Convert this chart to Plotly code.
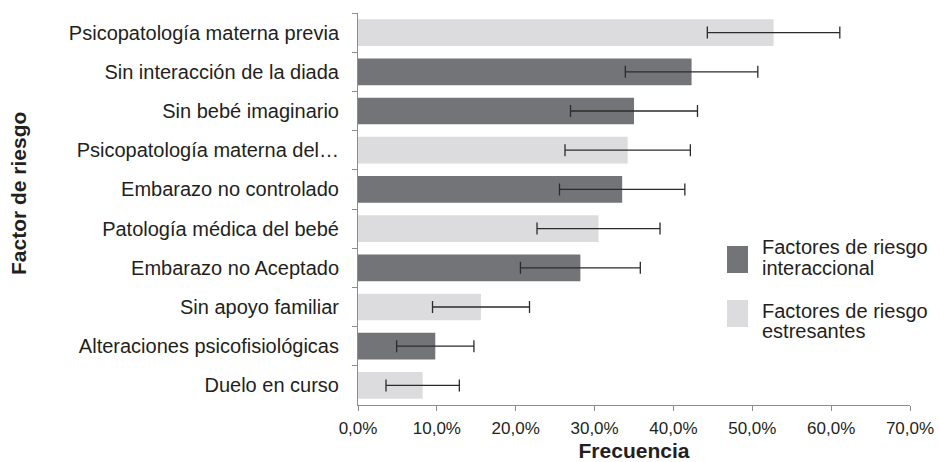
import plotly.graph_objects as go

# Risk factors, top to bottom, with frequency (%) and error half-width (%)
factors = [
    "Psicopatología materna previa",
    "Sin interacción de la diada",
    "Sin bebé imaginario",
    "Psicopatología materna del…",
    "Embarazo no controlado",
    "Patología médica del bebé",
    "Embarazo no Aceptado",
    "Sin apoyo familiar",
    "Alteraciones psicofisiológicas",
    "Duelo en curso",
]
frequency = [52.7, 42.3, 35.0, 34.2, 33.5, 30.5, 28.2, 15.6, 9.8, 8.2]
error = [8.4, 8.4, 8.05, 7.95, 7.95, 7.8, 7.6, 6.15, 4.9, 4.65]
group = ["E", "I", "I", "E", "I", "E", "I", "E", "I", "E"]

group_lines = {
    "I": ["Factores de riesgo", "interaccional"],
    "E": ["Factores de riesgo", "estresantes"],
}
group_colors = {"I": "#737477", "E": "#dcdcde"}

x_ticks = [0, 10, 20, 30, 40, 50, 60, 70]

FONT = "Liberation Sans, Arial, sans-serif"
TEXT = "#231f20"
AXIS_GRAY = "#8c8c8c"

fig = go.Figure()
for g in ["I", "E"]:
    idx = [i for i, gg in enumerate(group) if gg == g]
    fig.add_trace(go.Bar(
        orientation="h",
        y=[factors[i] for i in idx],
        x=[frequency[i] / 100 for i in idx],
        marker=dict(color=group_colors[g], line=dict(width=0)),
        width=0.68,
        error_x=dict(type="data", symmetric=True,
                     array=[error[i] / 100 for i in idx],
                     color="#2b2b2b", thickness=1.3, width=6),
        name=" ".join(group_lines[g]),
        showlegend=False,
    ))

fig.update_layout(
    width=939, height=462,
    margin=dict(l=358, r=29, t=13, b=57),
    plot_bgcolor="white", paper_bgcolor="white",
    barmode="overlay",
    separators=",.",
    font=dict(family=FONT, size=17, color=TEXT),
    xaxis=dict(
        range=[0, 0.70], tickvals=[v / 100 for v in x_ticks], tickformat=".1%",
        showgrid=False, zeroline=False, automargin=False,
        showline=True, linecolor=AXIS_GRAY, linewidth=1,
        ticks="outside", ticklen=5, tickcolor=AXIS_GRAY,
        tickfont=dict(size=17), ticklabelstandoff=3,
        title=dict(text="<b>Frecuencia</b>", font=dict(size=21), standoff=6),
    ),
    yaxis=dict(
        categoryorder="array", categoryarray=factors, autorange="reversed",
        showgrid=False, zeroline=False, automargin=False,
        showline=True, linecolor=AXIS_GRAY, linewidth=1,
        ticks="outside", ticklen=5, tickcolor=AXIS_GRAY, tickson="boundaries",
        tickfont=dict(size=20), ticklabelstandoff=14,
    ),
)

# Vertical axis title placed at the far left edge
fig.add_annotation(xref="paper", yref="paper", x=(18 - 358) / 552, y=(405 - 194) / 392,
                   xanchor="center", yanchor="middle", textangle=-90,
                   text="<b>Factor de riesgo</b>", showarrow=False,
                   font=dict(size=21, color=TEXT))

# Legend: colour swatches with two-line captions
legend_items = [("I", 246, 273, [247, 268]), ("E", 300, 327, [311, 331])]
for g, y0, y1, line_y in legend_items:
    fig.add_shape(type="rect", xref="paper", yref="paper",
                  x0=(727 - 358) / 552, x1=(748 - 358) / 552,
                  y0=(405 - y1) / 392, y1=(405 - y0) / 392,
                  fillcolor=group_colors[g], line=dict(width=0))
    for text, ly in zip(group_lines[g], line_y):
        fig.add_annotation(xref="paper", yref="paper",
                           x=(760 - 358) / 552, y=(405 - ly) / 392,
                           xanchor="left", yanchor="middle", align="left",
                           text=text, showarrow=False,
                           font=dict(size=20, color=TEXT))

fig.write_html("out.html")
